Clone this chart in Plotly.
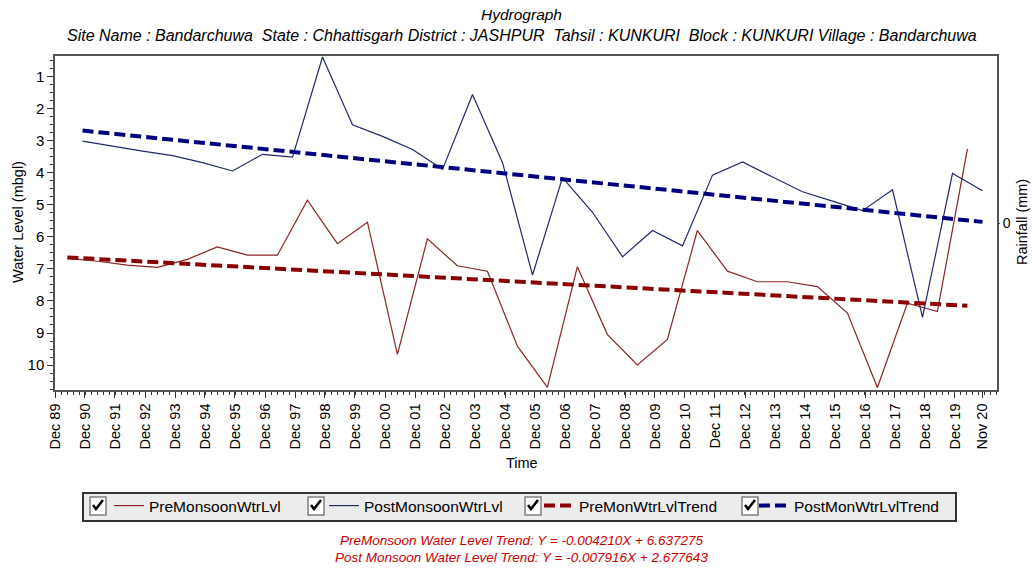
import plotly.graph_objects as go

# ---------------- data ----------------
pre_dates = [f"{y}-05-01" for y in range(1990, 2021)]
pre_values = [6.67, 6.76, 6.88, 6.95, 6.70, 6.31, 6.57, 6.57, 4.85, 6.21,
              5.54, 9.67, 6.06, 6.90, 7.07, 9.41, 10.70, 6.93, 9.05, 10.00,
              9.20, 5.80, 7.07, 7.40, 7.40, 7.55, 8.38, 10.70, 8.07, 8.33, 3.25]

post_dates = [f"{y}-11-01" for y in range(1990, 2021)]
post_values = [3.01, 3.17, 3.32, 3.46, 3.68, 3.94, 3.42, 3.51, 0.38, 2.50,
               2.86, 3.27, 3.89, 1.55, 3.68, 7.19, 4.15, 5.23, 6.62, 5.80,
               6.28, 4.07, 3.66, 4.13, 4.59, 4.88, 5.18, 4.53, 8.51, 4.02, 4.56]

pre_trend_dates = ["1990-05-01", "2020-05-01"]
pre_trend_values = [6.64, 8.15]
post_trend_dates = ["1990-11-01", "2020-11-01"]
post_trend_values = [2.68, 5.53]

rainfall_dates = []
rainfall_mm = []

tick_dates = [f"{y}-12-01" for y in range(1989, 2020)] + ["2020-11-01"]
tick_labels = [f"Dec {str(y)[2:]}" for y in range(1989, 2020)] + ["Nov 20"]

y_ticks = [1, 2, 3, 4, 5, 6, 7, 8, 9, 10]

legend_names = ["PreMonsoonWtrLvl", "PostMonsoonWtrLvl",
                "PreMonWtrLvlTrend", "PostMonWtrLvlTrend"]

title_text = "Hydrograph"
subtitle_text = ("Site Name : Bandarchuwa  State : Chhattisgarh District : JASHPUR  "
                 "Tahsil : KUNKURI  Block : KUNKURI Village : Bandarchuwa")
eq_lines = ["PreMonsoon Water Level Trend: Y = -0.004210X + 6.637275",
            "Post Monsoon Water Level Trend: Y = -0.007916X + 2.677643"]

# ---------------- styling ----------------
FONT = "Liberation Sans, Arial, sans-serif"
PRE_COL = "#8b2525"
POST_COL = "#1f2a6e"
PRE_TREND = "#8b0000"
POST_TREND = "#000080"
W, H = 1032, 569
L, R, T, B = 55, 35, 56, 179
PW, PH = W - L - R, H - T - B


def px2x(px):
    return (px - L) / PW


def py2y(py):
    return (H - B - py) / PH


fig = go.Figure()
fig.add_trace(go.Scatter(x=pre_dates, y=pre_values, mode="lines", name=legend_names[0],
                         line=dict(color=PRE_COL, width=1.2)))
fig.add_trace(go.Scatter(x=post_dates, y=post_values, mode="lines", name=legend_names[1],
                         line=dict(color=POST_COL, width=1.2)))
fig.add_trace(go.Scatter(x=pre_trend_dates, y=pre_trend_values, mode="lines", name=legend_names[2],
                         line=dict(color=PRE_TREND, width=4, dash="11px,5px")))
fig.add_trace(go.Scatter(x=post_trend_dates, y=post_trend_values, mode="lines", name=legend_names[3],
                         line=dict(color=POST_TREND, width=4, dash="11px,5px")))
fig.add_trace(go.Scatter(x=rainfall_dates, y=rainfall_mm, mode="lines", name="Rainfall",
                         yaxis="y2", showlegend=False))

axis_line = dict(showline=True, linecolor="#555555", linewidth=1.5, mirror=True,
                 showgrid=False, zeroline=False)

fig.update_layout(
    width=W, height=H,
    margin=dict(l=L, r=R, t=T, b=B, autoexpand=False),
    paper_bgcolor="white", plot_bgcolor="white",
    font=dict(family=FONT, size=14, color="black"),
    xaxis=dict(type="date", range=["1989-12-01", "2021-04-26"],
               tickmode="array", tickvals=tick_dates, ticktext=tick_labels,
               tickangle=-90, tickfont=dict(size=14.5),
               ticks="outside", ticklen=6, tickcolor="#333",
               minor=dict(ticks="outside", ticklen=3, tickcolor="#333",
                          dtick=6311520000, tick0="1989-12-01"),
               **axis_line),
    yaxis=dict(range=[10.78, 0.35], tickmode="array", tickvals=y_ticks,
               tickfont=dict(size=15), ticks="outside", ticklen=6, tickcolor="#333",
               minor=dict(ticks="outside", ticklen=3, tickcolor="#333", dtick=0.25, tick0=0),
               **axis_line),
    yaxis2=dict(overlaying="y", side="right", range=[-1, 1], tickmode="array",
                tickvals=[0], ticktext=["0"], ticks="outside", ticklen=2,
                tickfont=dict(size=14), showgrid=False, zeroline=False, showline=False),
    showlegend=True,
    legend=dict(orientation="h", x=px2x(109), xanchor="left", y=py2y(506), yanchor="middle",
                bgcolor="rgba(0,0,0,0)", borderwidth=0, font=dict(size=15.5),
                entrywidth=170, entrywidthmode="pixels", itemwidth=30),
)

# legend box
shapes = [dict(type="rect", xref="paper", yref="paper",
               x0=px2x(83), x1=px2x(956), y0=py2y(521), y1=py2y(493),
               fillcolor="#ececec", line=dict(color="#333333", width=2), layer="below")]
for cx in [98, 316, 533, 750]:
    shapes.append(dict(type="rect", xref="paper", yref="paper",
                       x0=px2x(cx - 8), x1=px2x(cx + 8), y0=py2y(515), y1=py2y(497),
                       fillcolor="white", line=dict(color="#808080", width=1.5), layer="above"))
    pts = [(cx - 5, 505), (cx - 2, 509), (cx + 5, 500)]
    path = "M {} {} L {} {} L {} {}".format(*[v for p in pts for v in (px2x(p[0]), py2y(p[1]))])
    shapes.append(dict(type="path", xref="paper", yref="paper", path=path,
                       line=dict(color="black", width=2.5), layer="above"))


def ann(text, x, y, size, color="black", angle=0):
    return dict(text=text, xref="paper", yref="paper", x=px2x(x), y=py2y(y),
                xanchor="center", yanchor="middle", showarrow=False, textangle=angle,
                font=dict(size=size, color=color))


annotations = [
    ann(f"<i>{title_text}</i>", 521, 15, 15.5),
    ann(f"<i>{subtitle_text}</i>", 522, 35, 16),
    ann("Water Level (mbgl)", 18, 222, 14.5, angle=-90),
    ann("Rainfall (mm)", 1022, 222, 14.5, angle=-90),
    ann("Time", 522, 463, 14.5),
    ann(f"<i>{eq_lines[0]}</i>", 521, 540, 13.5, "#cc0000"),
    ann(f"<i>{eq_lines[1]}</i>", 521, 557, 13.5, "#cc0000"),
]

fig.update_layout(shapes=shapes, annotations=annotations)
fig.write_html("out.html", config={"displayModeBar": False},
               post_script="document.body.style.margin='0px';")
